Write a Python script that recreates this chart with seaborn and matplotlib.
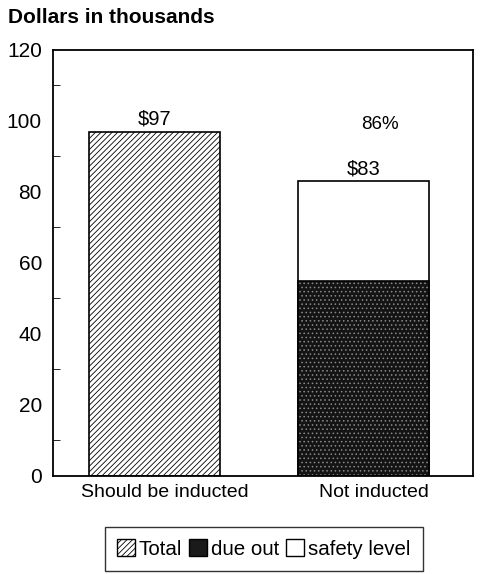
import pandas as pd
import numpy as np
import matplotlib.pyplot as plt
import matplotlib.transforms as mtransforms
import seaborn as sns
from matplotlib.patches import Patch

# dados
categorias = ['Should be inducted', 'Not inducted']
total = [97, 0]
due_out = [0, 55]
safety_level = [0, 28]
rotulos = ['$97', '$83']
percentual = '86%'

sns.set_style('white')
plt.rcParams['font.family'] = ['Liberation Sans', 'DejaVu Sans']
plt.rcParams['hatch.linewidth'] = 0.6
for k in ['text.color', 'axes.labelcolor', 'xtick.color', 'ytick.color']:
    plt.rcParams[k] = 'black'

df = pd.DataFrame({'cat': categorias, 'total': total, 'due': due_out,
                   'safety': safety_level})
df['topo'] = df['due'] + df['safety']

fig = plt.figure(figsize=(4.91, 5.74), dpi=100)
ax = fig.add_axes([0.108, 0.171, 0.855, 0.742])

# barra total (hachurada)
sns.barplot(data=df, x='cat', y='total', color='white', width=0.625,
            edgecolor='black', linewidth=1.2, hatch='//////', ax=ax)
# empilhado: safety level + due out
sns.barplot(data=df, x='cat', y='topo', color='white', width=0.625,
            edgecolor='black', linewidth=1.2, ax=ax)
sns.barplot(data=df, x='cat', y='due', color='#141414', width=0.625,
            edgecolor='#8a8a8a', linewidth=0, hatch='....', ax=ax)
sns.barplot(data=df, x='cat', y='due', fill=False, width=0.625,
            edgecolor='black', linewidth=1.2, ax=ax)

# rótulos
alturas = [df['total'][0], df['topo'][1]]
for i, (h, r) in enumerate(zip(alturas, rotulos)):
    ax.text(i, h + 0.8, r, ha='center', va='bottom', fontsize=14.5)
ax.text(1.077, 99, percentual, ha='center', va='center', fontsize=13.5)

ax.set_ylim(0, 120)
ax.set_xlim(-0.484, 1.52)
ax.set_yticks(range(0, 121, 20))
ax.set_yticks(range(10, 120, 20), minor=True)
ax.tick_params(axis='y', which='major', direction='in', length=7, labelsize=15, pad=8)
ax.tick_params(axis='y', which='minor', direction='in', length=5, left=True)
ax.tick_params(axis='x', length=0, labelsize=14, pad=6)
ax.set_xlabel('')
ax.set_ylabel('')
for s in ax.spines.values():
    s.set_color('black')
    s.set_linewidth(1.3)

# rótulos do eixo x levemente deslocados à direita
desloc = mtransforms.ScaledTranslation(0.1, 0, fig.dpi_scale_trans)
for lbl in ax.get_xticklabels():
    lbl.set_transform(lbl.get_transform() + desloc)

fig.text(0.016, 0.969, 'Dollars in thousands', fontsize=15, fontweight='bold',
         ha='left', va='center')

handles = [Patch(facecolor='white', edgecolor='black', hatch='//////', label='Total'),
           Patch(facecolor='#1a1a1a', edgecolor='black', label='due out'),
           Patch(facecolor='white', edgecolor='black', label='safety level')]
fig.legend(handles=handles, loc='center', bbox_to_anchor=(0.537, 0.044), ncol=3,
           frameon=True, fancybox=False, edgecolor='black', fontsize=14.8,
           handlelength=0.85, handleheight=0.9, handletextpad=0.2,
           columnspacing=0.35, borderpad=0.6, borderaxespad=0)

plt.savefig('out.png', dpi=100)
